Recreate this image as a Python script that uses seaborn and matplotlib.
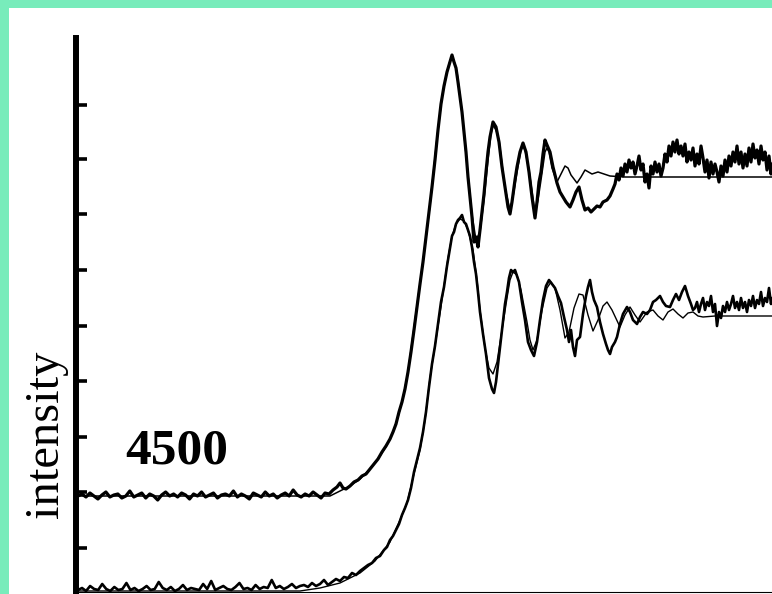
import numpy as np
import pandas as pd
import matplotlib
matplotlib.use("Agg")
import matplotlib.pyplot as plt
import seaborn as sns
from matplotlib.patches import Rectangle

sns.set_style("white")
plt.rcParams['font.family'] = ['Liberation Serif', 'DejaVu Serif']
plt.rcParams['text.color'] = 'black'

# ---------------- data (energy offset, intensity, arbitrary units) ----------------
# flat pre-edge baselines (evenly sampled between the given energies)
upper_base_range = (3, 262)
upper_base_I = [96, 98, 95, 99, 96, 93, 97, 100, 95, 97, 98, 94, 96, 101, 95, 97, 99, 94,
                98, 96, 92, 97, 100, 96, 98, 95, 99, 97, 93, 98, 96, 100, 95, 97, 99, 94,
                97, 98, 96, 101, 95, 98, 96, 93, 99, 97, 95, 100, 96, 98, 94, 97, 99, 96,
                102, 97, 95, 98, 96, 100, 97, 94, 99, 98, 102, 105]
lower_base_range = (3, 225)
lower_base_I = [2, 4, 1, 6, 3, 2, 8, 3, 1, 5, 2, 3, 9, 2, 4, 1, 3, 6, 2, 3, 10, 4, 2, 5, 1,
                3, 7, 2, 4, 3, 2, 8, 3, 11, 2, 4, 6, 3, 2, 5, 9, 3, 4, 2, 7, 3, 5, 4, 12, 4,
                6, 3, 5, 8, 4, 6]

# measured spectrum, upper trace (energy, intensity)
upper_data = [
    (265, 109), (268, 104), (271, 103), (275, 106), (279, 110), (283, 112), (287, 116),
    (291, 118), (295, 123), (299, 128), (303, 133), (307, 140), (311, 146), (315, 153),
    (318, 160), (321, 168), (324, 180), (327, 190), (330, 203), (333, 220), (336, 240),
    (339, 262), (342, 285), (345, 308), (348, 330), (351, 355), (354, 380), (357, 405),
    (360, 432), (363, 462), (366, 488), (369, 506), (372, 520), (375, 530), (377, 537),
    (379, 530), (381, 524), (383, 510), (385, 495), (387, 480), (389, 460), (391, 440),
    (393, 415), (395, 395), (397, 375), (399, 350), (401, 355), (403, 345), (405, 362),
    (407, 380), (409, 398), (411, 420), (413, 440), (415, 455), (418, 470), (421, 465),
    (424, 450), (427, 425), (430, 405), (433, 385), (435, 378), (437, 390), (440, 412),
    (442, 425), (445, 440), (448, 449), (451, 440), (454, 420), (457, 395), (460, 374),
    (462, 390), (464, 410), (466, 420), (468, 438), (470, 452), (472, 447), (475, 440),
    (478, 425), (482, 409), (485, 400), (488, 395), (491, 390), (495, 385), (498, 392),
    (501, 400), (504, 405), (507, 392), (510, 382), (513, 384), (516, 380), (519, 383),
    (522, 386), (525, 385), (528, 390), (532, 392), (535, 396), (538, 403),
    (540, 408), (542, 418), (544, 412), (546, 424), (548, 416), (550, 428), (552, 420),
    (554, 432), (556, 424), (558, 430), (560, 418), (562, 426), (564, 436), (566, 422),
    (568, 428), (570, 410), (572, 418), (574, 404), (576, 426), (578, 418), (580, 430),
    (582, 420), (584, 428), (586, 416), (588, 424), (590, 438), (592, 430), (594, 446),
    (596, 436), (598, 450), (600, 440), (602, 452), (604, 438), (606, 446), (608, 436),
    (610, 448), (612, 430), (614, 440), (616, 432), (618, 444), (620, 426), (622, 438),
    (624, 428), (626, 446), (628, 434), (630, 420), (632, 432), (634, 414), (636, 430),
    (638, 418), (640, 428), (642, 420), (644, 410), (646, 426), (648, 416), (650, 432),
    (652, 420), (654, 436), (656, 426), (658, 440), (660, 430), (662, 446), (664, 428),
    (666, 440), (668, 424), (670, 438), (672, 426), (674, 444), (676, 430), (678, 448),
    (680, 434), (682, 442), (684, 428), (686, 446), (688, 432), (690, 440), (692, 422),
    (694, 436), (696, 418), (697, 428)]

# fitted curve, upper trace
upper_fit = [
    (3, 96), (255, 96), (265, 101), (275, 106), (285, 113), (295, 123), (305, 136),
    (312, 147), (318, 160), (323, 175), (328, 194), (333, 220), (338, 257), (343, 294),
    (348, 330), (355, 387), (362, 454), (367, 495), (372, 520), (375, 531), (377, 534),
    (379, 531), (382, 520), (387, 480), (392, 427), (397, 377), (401, 352), (405, 360),
    (409, 392), (413, 432), (416, 458), (418, 467), (421, 462), (424, 452), (430, 404),
    (435, 382), (438, 395), (442, 420), (446, 442), (448, 446), (450, 442), (454, 422),
    (460, 379), (463, 392), (466, 412), (470, 440), (472, 444), (474, 440), (477, 424),
    (482, 410), (486, 418), (490, 426), (493, 424), (496, 417), (502, 409), (506, 415),
    (510, 422), (517, 418), (523, 420), (535, 416), (550, 415), (697, 415)]

# measured spectrum, lower trace
lower_data = [
    (229, 7), (233, 5), (237, 9), (241, 6), (245, 8), (249, 12), (253, 7), (257, 10),
    (261, 13), (265, 11), (269, 15), (273, 14), (277, 19), (281, 17), (285, 21), (289, 24),
    (293, 27), (297, 29), (301, 34), (305, 36), (309, 42), (312, 45), (315, 52), (318, 56),
    (321, 62), (324, 68), (327, 77), (330, 84), (333, 92), (336, 104), (339, 120), (342, 132),
    (345, 144), (348, 160), (351, 180), (354, 205), (357, 228), (360, 246), (363, 268),
    (366, 290), (369, 305), (372, 326), (375, 344), (377, 356), (379, 360), (381, 368),
    (383, 372), (385, 374), (387, 377), (389, 370), (391, 368), (393, 362), (395, 356),
    (397, 345), (399, 330), (401, 318), (403, 300), (405, 280), (408, 258), (411, 238),
    (414, 214), (417, 203), (419, 199), (421, 210), (424, 236), (427, 262), (430, 288),
    (432, 300), (434, 314), (436, 322), (438, 320), (440, 322), (442, 316), (444, 310),
    (447, 290), (450, 272), (453, 250), (456, 242), (459, 236), (462, 250), (465, 272),
    (468, 292), (471, 306), (474, 312), (477, 308), (480, 304), (483, 296), (486, 289),
    (489, 275), (492, 262), (494, 250), (496, 262), (498, 245), (500, 236), (502, 252),
    (505, 255), (508, 278), (511, 296), (513, 305), (515, 312), (517, 300), (519, 292),
    (522, 285), (525, 270), (528, 258), (531, 248), (533, 242), (535, 238), (537, 245),
    (540, 250), (542, 255), (545, 268), (548, 278), (552, 285), (555, 280), (558, 272),
    (562, 268), (565, 275), (568, 280), (572, 278), (575, 282), (578, 290), (581, 292),
    (585, 296), (588, 290), (591, 286), (595, 285), (598, 292), (601, 298), (604, 292),
    (607, 300), (610, 306), (613, 296), (616, 288), (618, 282),
    (620, 284), (622, 290), (624, 280), (626, 288), (628, 294), (630, 282), (632, 290),
    (634, 286), (636, 296), (638, 280), (640, 288), (642, 266), (644, 280), (646, 274),
    (648, 286), (650, 280), (652, 290), (654, 282), (656, 288), (658, 296), (660, 284),
    (662, 290), (664, 282), (666, 294), (668, 284), (670, 290), (672, 280), (674, 292),
    (676, 286), (678, 296), (680, 284), (682, 292), (684, 288), (686, 300), (688, 286),
    (690, 294), (692, 290), (694, 304), (696, 288), (697, 294)]

# fitted curve, lower trace
lower_fit = [
    (3, 1), (225, 1), (245, 4), (265, 9), (285, 19), (300, 31), (315, 50), (325, 72),
    (332, 89), (338, 114), (345, 142), (350, 172), (355, 214), (362, 259), (368, 299),
    (373, 334), (377, 356), (381, 368), (385, 373), (389, 371), (393, 362), (398, 342),
    (402, 312), (405, 282), (410, 244), (414, 224), (418, 218), (422, 230), (427, 262),
    (432, 294), (435, 312), (438, 320), (442, 317), (446, 302), (452, 270), (455, 252),
    (458, 242), (462, 252), (467, 282), (472, 304), (476, 310), (480, 304), (485, 282),
    (490, 254), (494, 260), (499, 284), (504, 298), (508, 297), (513, 277), (518, 261),
    (523, 272), (528, 286), (532, 290), (537, 282), (545, 265), (550, 277), (555, 285),
    (560, 277), (565, 270), (572, 280), (578, 282), (583, 276), (588, 272), (593, 280),
    (598, 283), (603, 278), (608, 274), (613, 279), (618, 280), (623, 276), (628, 275),
    (640, 276), (697, 276)]

y_ticks = [44, 100, 155, 211, 266, 322, 378, 433, 487]
label_text = "4500"
axis_label = "intensity"

# ---------------- build tables ----------------
def trace(base_range, base_I, pts):
    e = list(np.linspace(base_range[0], base_range[1], len(base_I))) + [p[0] for p in pts]
    i = list(base_I) + [p[1] for p in pts]
    return pd.DataFrame({"E": e, "I": i})

df_up = trace(upper_base_range, upper_base_I, upper_data)
df_lo = trace(lower_base_range, lower_base_I, lower_data)
df_upfit = pd.DataFrame(upper_fit, columns=["E", "I"])
df_lofit = pd.DataFrame(lower_fit, columns=["E", "I"])

# ---------------- figure ----------------
MINT = "#78ECBB"
W, H = 772, 594
fig = plt.figure(figsize=(W / 100, H / 100), dpi=100, facecolor=MINT)
fig.add_artist(Rectangle((9 / W, 0), 1, (H - 8) / H, transform=fig.transFigure,
                         facecolor="white", edgecolor="none", zorder=-5))

ax = fig.add_axes([75.7 / W, 2 / H, (W - 75.7) / W, 554 / H])
ax.set_facecolor("white")

sns.lineplot(data=df_up, x="E", y="I", sort=False, estimator=None, color="black",
             lw=2.3, ax=ax)
sns.lineplot(data=df_upfit, x="E", y="I", sort=False, estimator=None, color="black",
             lw=1.1, ax=ax)
sns.lineplot(data=df_lo, x="E", y="I", sort=False, estimator=None, color="black",
             lw=1.9, ax=ax)
sns.lineplot(data=df_lofit, x="E", y="I", sort=False, estimator=None, color="black",
             lw=1.0, ax=ax)

ax.set_xlim(0.7, 697)
ax.set_ylim(0, 554)
ax.set_xticks([])
ax.set_yticks(y_ticks)
ax.set_yticklabels([])
ax.set_xlabel("")
ax.set_ylabel("")
ax.tick_params(axis="y", direction="in", length=8, width=2.6, color="black", left=True)
for s in ("top", "right"):
    ax.spines[s].set_visible(False)
ax.spines["left"].set_linewidth(4.3)
ax.spines["left"].set_color("black")
ax.spines["bottom"].set_linewidth(0.8)
ax.spines["bottom"].set_color("black")

fig.text(46 / W, 1 - 434 / H, axis_label, rotation=90, ha="center", va="center",
         fontsize=35, color="black", family=["Liberation Serif", "DejaVu Serif"])
fig.text(177 / W, 1 - 451 / H, label_text, ha="center", va="center", color="black",
         fontsize=37, fontweight="bold", family=["Liberation Serif", "DejaVu Serif"])

fig.savefig("out.png", dpi=100, facecolor=MINT)
